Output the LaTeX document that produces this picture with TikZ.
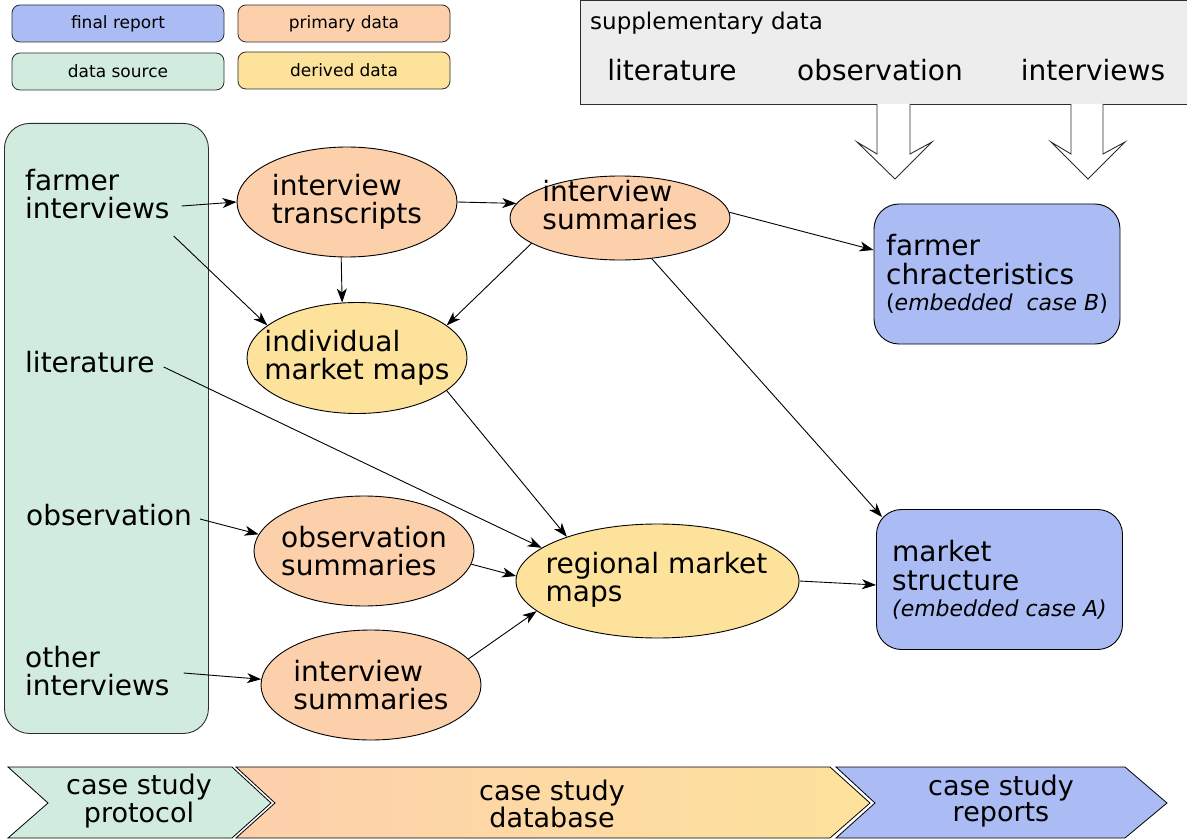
\documentclass[tikz,border=0pt]{standalone}
\usepackage{fontspec}
\setmainfont{DejaVu Sans}
\usetikzlibrary{shapes.geometric,arrows.meta}

\definecolor{reportblue}{RGB}{170,188,243}
\definecolor{primarypeach}{RGB}{253,208,172}
\definecolor{sourcemint}{RGB}{209,236,222}
\definecolor{derivedyellow}{RGB}{253,226,156}
\definecolor{suppgrey}{RGB}{237,237,237}
\definecolor{edgegrey}{RGB}{45,45,45}

\newcommand\setfs[2]{\fontsize{#1}{#2}\selectfont}

\begin{document}
\begin{tikzpicture}[x=1pt,y=-1pt,
  legendbox/.style={draw=edgegrey, line width=0.8pt, rounded corners=8pt,
    minimum width=212pt, minimum height=37pt, inner sep=0pt, font=\setfs{17}{20}},
  blob/.style={ellipse, draw=black, line width=0.9pt, inner sep=0pt},
  blobtext/.style={align=left, font=\setfs{28}{28}, inner sep=0pt},
  srctext/.style={anchor=west, align=left, font=\setfs{28}{28}, inner sep=0pt},
  supptext/.style={anchor=base, font=\setfs{28}{28}, inner sep=0pt},
  reportbox/.style={draw=black, line width=0.9pt, fill=reportblue, rounded corners=25pt,
    minimum width=246pt, minimum height=140pt, inner sep=0pt, align=left, font=\setfs{28}{29}},
  arr/.style={-{Stealth[length=14pt,width=10pt,inset=4pt]}, line width=0.9pt},
  hollow/.style={draw=edgegrey, line width=0.9pt, fill=white, line join=miter},
  chev/.style={draw=black, line width=0.8pt},
  chevtext/.style={align=center, font=\setfs{27}{26}, inner sep=0pt}
]
\useasboundingbox (0,0) rectangle (1187,840);

% legend
\node[legendbox, fill=reportblue]    (lgreport)  at (118,23.5) {final report};
\node[legendbox, fill=primarypeach]  (lgprimary) at (344,23.5) {primary data};
\node[legendbox, fill=sourcemint]    (lgsource)  at (118,71.5) {data source};
\node[legendbox, fill=derivedyellow] (lgderived) at (344,70.5) {derived data};

% supplementary data panel
\node[draw=edgegrey, line width=0.9pt, fill=suppgrey, anchor=north west,
      minimum width=612pt, minimum height=104pt, inner sep=0pt] (supp) at (580,0.5) {};
\node[anchor=base west, font=\setfs{23}{23}, inner sep=0pt] (supptitle) at (590,30) {supplementary data};
\node[supptext] (suplit) at (672,81) {literature};
\node[supptext] (supobs) at (880,81) {observation};
\node[supptext] (supint) at (1093,81) {interviews};

% hollow arrows out of the supplementary panel
\path[hollow] (877,104) -- (877,154) -- (857,142) -- (895,179) -- (932,142) -- (910,154) -- (910,104);
\path[hollow] (1071,104) -- (1071,154) -- (1051,142) -- (1088,179) -- (1125,142) -- (1103,154) -- (1103,104);

% data sources
\node[draw=edgegrey, line width=0.9pt, fill=sourcemint, rounded corners=25pt, anchor=north west,
      minimum width=204pt, minimum height=610pt, inner sep=0pt] (src) at (4,123) {};
\node[srctext] (fi)  at (25,194) {farmer\\interviews};
\node[srctext] (lit) at (25,362) {literature};
\node[srctext] (obs) at (26,515) {observation};
\node[srctext] (oi)  at (25,671) {other\\interviews};

% primary and derived data
\node[blob, fill=primarypeach, minimum width=220pt, minimum height=110pt] (it) at (347,202) {};
\node[blobtext] (ittxt) at (it) {interview\\transcripts};
\node[blob, fill=primarypeach, minimum width=220pt, minimum height=84pt] (summ) at (620,218) {};
\node[blobtext] (summtxt) at (620,205) {interview\\summaries};
\node[blob, fill=derivedyellow, minimum width=220pt, minimum height=111pt] (imm) at (357,358) {};
\node[blobtext] (immtxt) at (imm) {individual\\market maps};
\node[blob, fill=primarypeach, minimum width=220pt, minimum height=110pt] (os) at (364,551) {};
\node[blobtext] (ostxt) at (os) {observation\\summaries};
\node[blob, fill=primarypeach, minimum width=220pt, minimum height=110pt] (isb) at (371,685) {};
\node[blobtext] (isbtxt) at (isb) {interview\\summaries};
\node[blob, fill=derivedyellow, minimum width=283pt, minimum height=114pt] (reg) at (657.5,581) {};
\node[blobtext] (regtxt) at (656.5,580) {regional market\\maps};

% final reports
\node[reportbox] (fc) at (997,274)
  {farmer\\chracteristics\\[-3pt]{\setfs{22}{22}(\textit{embedded\ \ case B})}};
\node[reportbox] (ms) at (999.5,579.5)
  {market\\structure\\[-3pt]{\setfs{22}{22}\textit{(embedded case A)}}};

% connectors
\draw[arr] ([shift={(12pt,-12pt)}]fi.east) -- (it.180);
\draw[arr] ([shift={(4pt,-42pt)}]fi.east) -- (imm.160);
\draw[arr] (it.0) -- (summ.172);
\draw[arr] (it.264) -- (imm.105);
\draw[arr] (summ.196) -- (imm.20);
\draw[arr] (summ.3) -- ([yshift=24pt]fc.west);
\draw[arr] (summ.-52) -- ([shift={(6pt,-8pt)}]ms.north west);
\draw[arr] (imm.340) -- (reg.154);
\draw[arr] ([shift={(9pt,-5pt)}]lit.east) -- (reg.164);
\draw[arr] ([shift={(8pt,-4pt)}]obs.east) -- (os.171);
\draw[arr] (os.353) -- (reg.178);
\draw[arr] (isb.15) -- (reg.194);
\draw[arr] ([shift={(14pt,-2pt)}]oi.east) -- (isb.177);
\draw[arr] (reg.0) -- ([yshift=-5.5pt]ms.west);

% process chevrons
\path[chev, fill=sourcemint] (8,767) -- (232,767) -- (271,803) -- (232,838) -- (8,838) -- (48,803) -- cycle;
\path[chev, left color=primarypeach, right color=derivedyellow]
  (236,767) -- (830,767) -- (870,803) -- (830,838) -- (236,838) -- (275,803) -- cycle;
\path[chev, fill=reportblue] (836,767) -- (1125,767) -- (1167,803) -- (1125,838) -- (836,838) -- (875,803) -- cycle;
\node[chevtext] (protocol) at (139,801) {case study\\protocol};
\node[chevtext] (database) at (552,804) {case study\\database};
\node[chevtext] (reports)  at (1001,801) {case study\\reports};
\end{tikzpicture}
\end{document}
